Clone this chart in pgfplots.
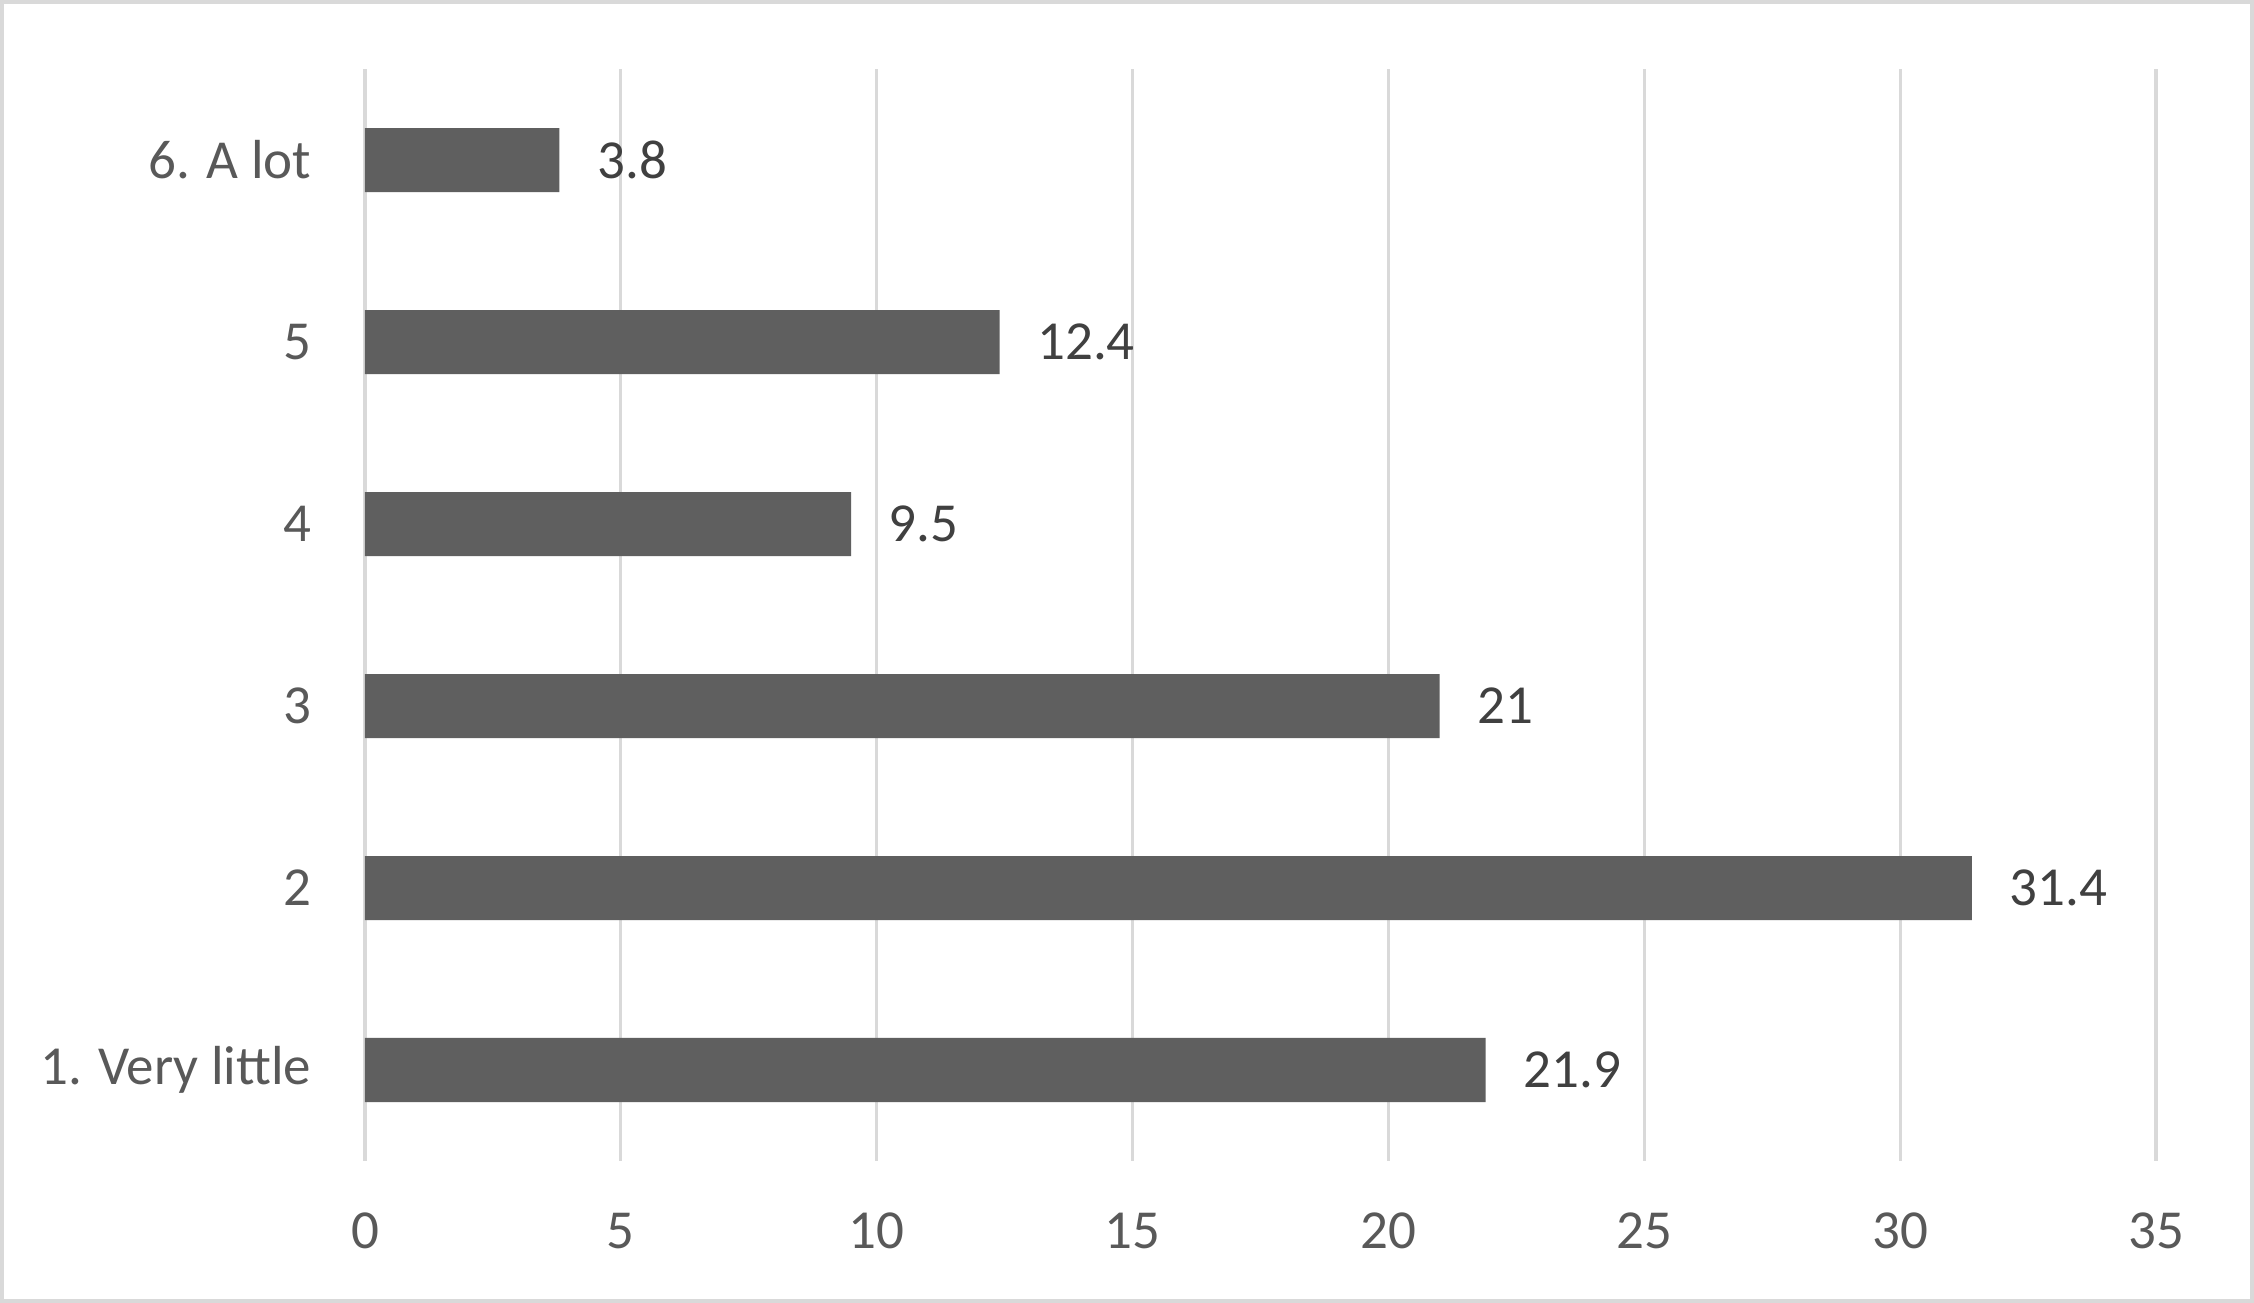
\documentclass[border=0pt]{standalone}
\usepackage{pgfplots}
\pgfplotsset{compat=1.18}
\usepackage{fontspec}
\setmainfont{Carlito}
\definecolor{bargray}{HTML}{5F5F5F}
\definecolor{gridgray}{HTML}{D9D9D9}
\definecolor{labelgray}{HTML}{595959}
\definecolor{valgray}{HTML}{404040}
\begin{document}
\begin{tikzpicture}
\useasboundingbox (-91.25pt,-35.5pt) rectangle (472.25pt,290.25pt);
\fill[white] (-91.25pt,-35.5pt) rectangle (472.25pt,290.25pt);
\begin{axis}[
  at={(0pt,0pt)}, anchor=south west,
  scale only axis,
  width=447.75pt, height=273pt,
  xbar, bar width=16pt,
  xmin=0, xmax=35, ymin=0.5, ymax=6.5,
  xtick={0,5,...,35},
  ytick={1,2,3,4,5,6},
  yticklabels={1. Very little,2,3,4,5,6. A lot},
  /pgf/number format/assume math mode=true,
  axis line style={draw=none},
  major tick length=0pt,
  xmajorgrids,
  major grid style={draw=gridgray, line width=0.8pt},
  tick label style={font=\fontsize{13.75}{16}\selectfont, text=labelgray, inner sep=0pt},
  xticklabel style={anchor=north, yshift=-12.75pt},
  yticklabel style={anchor=east, xshift=-13.25pt},
  nodes near coords,
  every node near coord/.append style={font=\fontsize{13.75}{16}\selectfont, text=valgray, anchor=west, inner sep=0pt, xshift=9.25pt},
]
\addplot[fill=bargray, draw=none] coordinates {
  (21.9,1)
  (31.4,2)
  (21,3)
  (9.5,4)
  (12.4,5)
  (3.8,6)
};
\end{axis}
\draw[gridgray, line width=1pt] (-90.75pt,-35pt) rectangle (471.75pt,289.75pt);
\end{tikzpicture}
\end{document}
